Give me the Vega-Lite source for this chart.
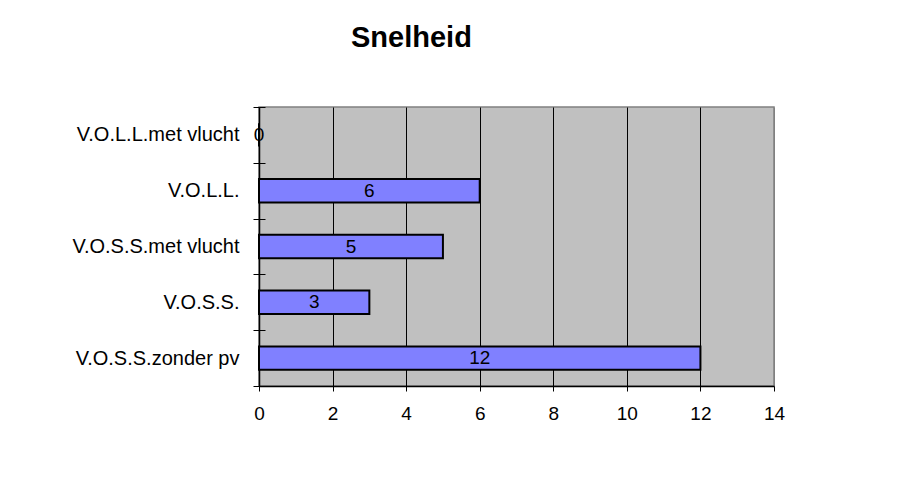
{
  "$schema": "https://vega.github.io/schema/vega-lite/v6.json",
  "autosize": "none",
  "width": 515,
  "height": 279,
  "padding": {"left": 259, "top": 107, "right": 125, "bottom": 100},
  "background": "white",
  "title": {
    "text": "Snelheid",
    "anchor": "start",
    "frame": "group",
    "dx": 92,
    "offset": 21,
    "baseline": "alphabetic",
    "font": "Liberation Sans",
    "fontSize": 29,
    "fontWeight": "bold",
    "color": "black"
  },
  "data": {
    "values": [
      {"cat": "V.O.L.L.met vlucht", "v": 0},
      {"cat": "V.O.L.L.", "v": 6},
      {"cat": "V.O.S.S.met vlucht", "v": 5},
      {"cat": "V.O.S.S.", "v": 3},
      {"cat": "V.O.S.S.zonder pv", "v": 12}
    ]
  },
  "config": {
    "view": {"fill": "#C0C0C0", "stroke": "#808080", "strokeWidth": 1.5},
    "font": "Liberation Sans"
  },
  "layer": [
    {
      "mark": {"type": "bar", "fill": "#8080FF", "stroke": "black", "strokeWidth": 2, "height": {"band": 0.42}},
      "encoding": {
        "y": {
          "field": "cat",
          "type": "nominal",
          "sort": null,
          "scale": {"type": "band", "paddingInner": 0, "paddingOuter": 0},
          "axis": {
            "title": null,
            "tickBand": "extent",
            "tickSize": 6,
            "tickColor": "black",
            "tickWidth": 1,
            "domainColor": "black",
            "domainWidth": 1.5,
            "labelFontSize": 20,
            "labelColor": "black",
            "labelPadding": 14,
            "labelFont": "Liberation Sans",
            "grid": false
          }
        },
        "x": {
          "field": "v",
          "type": "quantitative",
          "scale": {"domain": [0, 14], "nice": false},
          "axis": {
            "title": null,
            "values": [0, 2, 4, 6, 8, 10, 12, 14],
            "grid": true,
            "gridColor": {"condition": {"test": "datum.value === 14", "value": "#808080"}, "value": "black"},
            "gridWidth": 1,
            "gridOpacity": 1,
            "tickSize": 5,
            "tickColor": "black",
            "domainColor": "black",
            "domainWidth": 1.5,
            "labelFontSize": 19,
            "labelColor": "black",
            "labelPadding": 13,
            "labelFlush": false,
            "labelFont": "Liberation Sans"
          }
        }
      }
    },
    {
      "mark": {"type": "text", "fontSize": 19, "color": "black", "baseline": "middle", "align": "center", "font": "Liberation Sans"},
      "encoding": {
        "y": {
          "field": "cat",
          "type": "nominal",
          "sort": null,
          "scale": {"type": "band", "paddingInner": 0, "paddingOuter": 0},
          "axis": {
            "orient": "left",
            "title": null,
            "tickBand": "extent",
            "tickSize": -6,
            "tickColor": "black",
            "tickWidth": 1,
            "domain": false,
            "labels": false,
            "grid": false
          }
        },
        "x": {"field": "v", "type": "quantitative", "scale": {"domain": [0, 28], "nice": false}, "axis": null},
        "text": {"field": "v", "type": "quantitative"}
      }
    }
  ],
  "resolve": {"scale": {"x": "independent", "y": "independent"}, "axis": {"y": "independent"}}
}
